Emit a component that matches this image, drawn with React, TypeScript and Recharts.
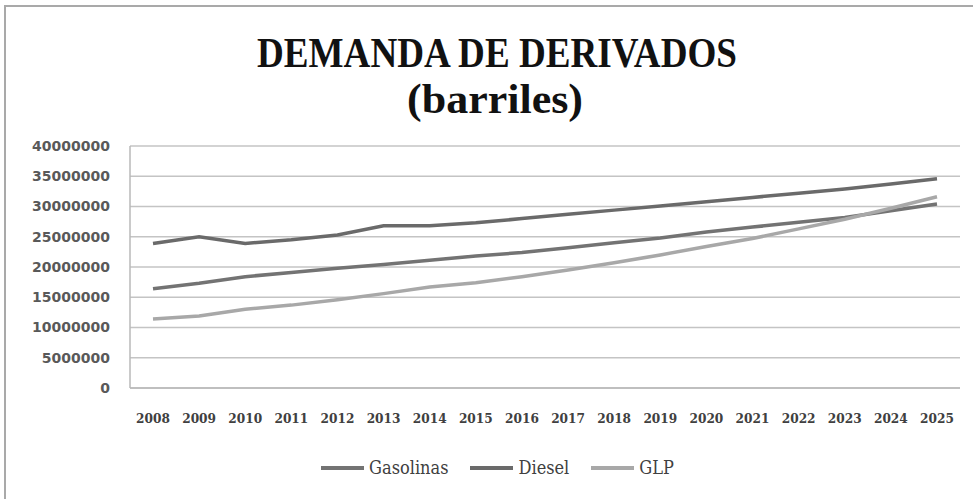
import React from "react";
import {
  LineChart,
  Line,
  XAxis,
  YAxis,
  CartesianGrid,
} from "recharts";

if (typeof document !== "undefined") {
  document.body.style.margin = "0";
}

const years = [
  "2008", "2009", "2010", "2011", "2012", "2013", "2014", "2015", "2016",
  "2017", "2018", "2019", "2020", "2021", "2022", "2023", "2024", "2025",
];

const gasolinas = [
  16400000, 17300000, 18400000, 19100000, 19800000, 20400000, 21100000,
  21800000, 22400000, 23200000, 24000000, 24800000, 25800000, 26600000,
  27400000, 28200000, 29300000, 30400000,
];

const diesel = [
  23900000, 25000000, 23900000, 24500000, 25300000, 26800000, 26800000,
  27300000, 28000000, 28700000, 29400000, 30100000, 30800000, 31500000,
  32200000, 32900000, 33700000, 34600000,
];

const glp = [
  11400000, 11900000, 13000000, 13700000, 14600000, 15600000, 16700000,
  17400000, 18400000, 19500000, 20700000, 22000000, 23400000, 24700000,
  26300000, 27900000, 29700000, 31600000,
];

const yTicks = [0, 5000000, 10000000, 15000000, 20000000, 25000000, 30000000, 35000000, 40000000];

const series = [
  { key: "Gasolinas", color: "#737373" },
  { key: "Diesel", color: "#6a6a6a" },
  { key: "GLP", color: "#a8a8a8" },
];

const data = years.map((year, i) => ({
  year,
  Gasolinas: gasolinas[i],
  Diesel: diesel[i],
  GLP: glp[i],
}));

const serifCond = "'DejaVu Serif Condensed', 'DejaVu Serif', serif";

function XTick(props: any) {
  const { x, y, payload } = props;
  return (
    <text
      x={x}
      y={y}
      dy="0.71em"
      textAnchor="middle"
      fill="#404040"
      fontSize={13.5}
      fontWeight="bold"
      fontFamily={serifCond}
      style={{ fontStretch: "condensed" }}
    >
      {payload.value}
    </text>
  );
}

function ChartLegend() {
  return (
    <div
      style={{
        position: "absolute",
        left: 0,
        top: 457,
        width: 973,
        display: "flex",
        justifyContent: "center",
        alignItems: "center",
        gap: 22,
        paddingLeft: 22,
        boxSizing: "border-box",
        fontFamily: serifCond,
        fontSize: 18,
        color: "#404040",
        fontStretch: "condensed",
      }}
    >
      {series.map((s) => (
        <div key={s.key} style={{ display: "flex", alignItems: "center" }}>
          <span
            style={{
              display: "inline-block",
              width: 43,
              height: 4,
              background: s.color,
              marginRight: 5,
            }}
          />
          <span>{s.key}</span>
        </div>
      ))}
    </div>
  );
}

export default function App() {
  return (
    <div
      style={{
        position: "relative",
        width: 973,
        height: 499,
        overflow: "hidden",
        background: "#fff",
      }}
    >
      <div
        style={{
          position: "absolute",
          left: 4,
          top: 5,
          width: 1100,
          height: 700,
          border: "2px solid #a9a9a9",
          boxSizing: "border-box",
        }}
      />
      <svg
        width={973}
        height={130}
        style={{ position: "absolute", left: 0, top: 0 }}
      >
        <text
          x={497}
          y={67}
          textAnchor="middle"
          fontFamily="'Liberation Serif', serif"
          fontWeight="bold"
          fontSize={43}
          fill="#111"
          textLength={480}
          lengthAdjust="spacingAndGlyphs"
        >
          DEMANDA DE DERIVADOS
        </text>
        <text
          x={495}
          y={113}
          textAnchor="middle"
          fontFamily="'Liberation Serif', serif"
          fontWeight="bold"
          fontSize={43}
          fill="#111"
          textLength={176}
          lengthAdjust="spacingAndGlyphs"
        >
          (barriles)
        </text>
      </svg>
      <div style={{ position: "absolute", left: 0, top: 0 }}>
        <LineChart
          width={973}
          height={499}
          data={data}
          margin={{ top: 146, right: 13, bottom: 51, left: 0 }}
        >
          <CartesianGrid
            vertical={false}
            stroke="#c4c4c4"
            strokeWidth={1.5}
          />
          <XAxis
            dataKey="year"
            tick={<XTick />}
            tickLine={false}
            axisLine={{ stroke: "#b8b8b8", strokeWidth: 1.5 }}
            tickSize={0}
            tickMargin={25}
            height={60}
            interval={0}
            padding={{ left: 23, right: 23 }}
          />
          <YAxis
            width={130}
            domain={[0, 40000000]}
            ticks={yTicks}
            interval={0}
            tickLine={false}
            axisLine={{ stroke: "#b8b8b8", strokeWidth: 1.5 }}
            tickSize={0}
            tickMargin={20}
            tick={{
              fill: "#595959",
              fontSize: 14,
              fontWeight: "bold",
              fontFamily: "'DejaVu Sans', sans-serif",
            }}
          />
          {series.map((s) => (
            <Line
              key={s.key}
              dataKey={s.key}
              stroke={s.color}
              strokeWidth={3.5}
              dot={false}
              type="linear"
              isAnimationActive={false}
            />
          ))}
        </LineChart>
      </div>
      <ChartLegend />
    </div>
  );
}
